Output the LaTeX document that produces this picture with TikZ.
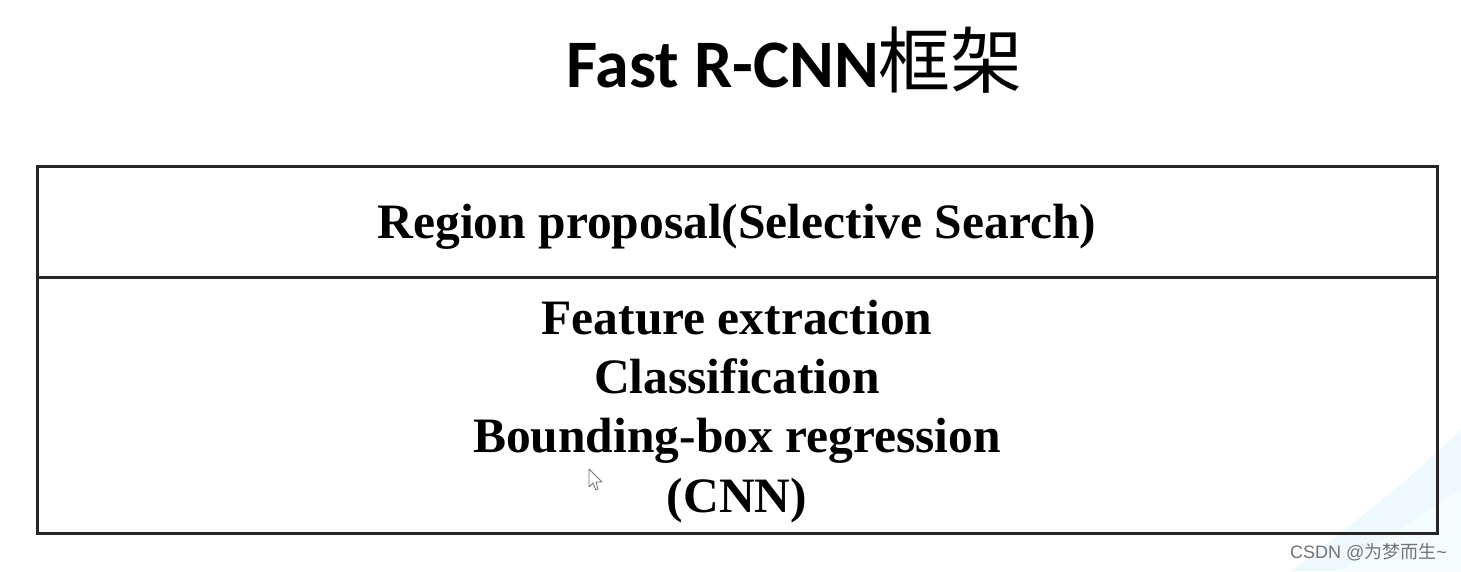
\documentclass[tikz,border=0pt]{standalone}
\usepackage{fontspec}
\setmainfont{Liberation Serif}
\newfontfamily\titlefont{Carlito}
\newfontfamily\cjk{Noto Sans CJK SC}
\newfontfamily\markfont{Liberation Sans}
\usetikzlibrary{positioning}
\begin{document}
\begin{tikzpicture}[x=1pt,y=-1pt,
  frame/.style={draw=black!85,line width=3pt},
  bodytext/.style={font=\fontsize{49.5}{49.5}\selectfont\bfseries,anchor=base,inner sep=0pt},
]
\useasboundingbox (0,0) rectangle (1461,571);
\fill[white] (0,0) rectangle (1461,571);
% pale blue sweep in the lower right corner
\fill[cyan!7] (1290,571) .. controls (1360,520) and (1420,470) .. (1461,430) -- (1461,571) -- cycle;
\fill[cyan!4] (1340,571) .. controls (1400,530) and (1440,500) .. (1461,490) -- (1461,571) -- cycle;

% title
\node[anchor=base,inner sep=0pt] (title) at (794.5,87)
  {\titlefont\bfseries\fontsize{68}{68}\selectfont Fast R-CNN\cjk\mdseries\fontsize{72}{72}\selectfont 框架};

% table frame
\coordinate (tl) at (37,166);
\coordinate (br) at (1437,533);
\coordinate (dl) at (37,277);
\coordinate (dr) at (1437,277);
\draw[frame] (tl) rectangle (br);
\draw[frame] (dl) -- (dr);

% rows
\node[bodytext] (region) at (737,238) {Region proposal(Selective Search)};
\node[bodytext] (feat) at (737,334) {Feature extraction};
\node[bodytext] (cls) at (737,393) {Classification};
\node[bodytext] (bbox) at (737,452) {Bounding-box regression};
\node[bodytext] (cnn) at (737,512) {(CNN)};

% mouse pointer
\draw[black!55,fill=white,line width=0.8pt,line join=round]
  (589,469) -- (589,487) -- (593,483) -- (596,490) -- (598,489) -- (596,482) -- (602,482) -- cycle;

% watermark
\node[anchor=base east,inner sep=0pt,text=black!55] (mark) at (1447,558)
  {\markfont\fontsize{18}{18}\selectfont CSDN @\cjk 为梦而生\markfont\textasciitilde};
\end{tikzpicture}
\end{document}
